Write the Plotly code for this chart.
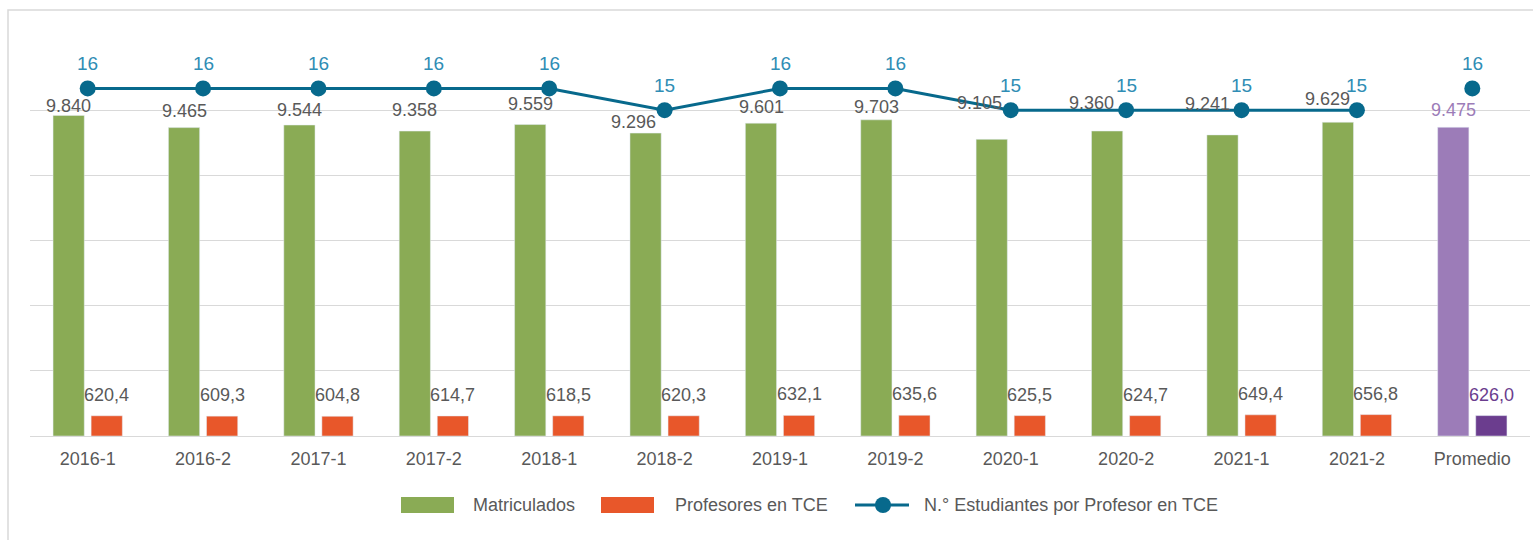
import plotly.graph_objects as go

# Semesters plus the overall average
categorias = ["2016-1", "2016-2", "2017-1", "2017-2", "2018-1", "2018-2",
              "2019-1", "2019-2", "2020-1", "2020-2", "2021-1", "2021-2", "Promedio"]
matriculados = [9840, 9465, 9544, 9358, 9559, 9296, 9601, 9703, 9105, 9360, 9241, 9629, 9475]
profesores_tce = [620.4, 609.3, 604.8, 614.7, 618.5, 620.3, 632.1, 635.6, 625.5, 624.7, 649.4, 656.8, 626.0]
estudiantes_por_profesor = [16, 16, 16, 16, 16, 15, 16, 16, 15, 15, 15, 15, 16]

nombres = ["Matriculados", "Profesores en TCE", "N.° Estudiantes por Profesor en TCE"]

# label placement for the enrolment values: vertical gap (px) above the bar top
# and horizontal nudge (px) to keep clear of the ratio markers
desplaz_y_matric = [9, 17, 15, 21, 21, 11, 16, 13, 36, 28, 31, 23, 17]
desplaz_x_matric = [0, 0, 0, 0, 0, -12, 0, 0, -12, -16, -15, -10, 0]

FONT = "Liberation Sans Narrow, Arial Narrow, Liberation Sans, Arial, sans-serif"
VERDE, NARANJA = "#8aab55", "#e8572a"
LILA, MORADO = "#9c7cb8", "#6b3d8e"
AZUL, AZUL_TXT = "#07698c", "#2f8db5"
GRIS_TXT = "#595959"
TAM = 18

n = len(categorias)
es_prom = [c == "Promedio" for c in categorias]


def fmt_miles(v):
    return f"{v:,.0f}".replace(",", ".")


def fmt_dec(v):
    return f"{v:.1f}".replace(".", ",")


fig = go.Figure()

fig.add_trace(go.Bar(
    x=categorias, y=matriculados, name=nombres[0],
    marker=dict(color=[LILA if p else VERDE for p in es_prom]),
    showlegend=False, hoverinfo="x+y",
))
fig.add_trace(go.Bar(
    x=categorias, y=profesores_tce, name=nombres[1],
    marker=dict(color=[MORADO if p else NARANJA for p in es_prom]),
    showlegend=False, hoverinfo="x+y",
))

# ratio line over the semesters, average shown as an isolated point
sem = [i for i in range(n) if not es_prom[i]]
prom = [i for i in range(n) if es_prom[i]]
fig.add_trace(go.Scatter(
    x=[categorias[i] for i in sem], y=[estudiantes_por_profesor[i] for i in sem],
    name=nombres[2], mode="lines+markers", yaxis="y2",
    line=dict(color=AZUL, width=3), marker=dict(color=AZUL, size=16),
    showlegend=False,
))
fig.add_trace(go.Scatter(
    x=[categorias[i] for i in prom], y=[estudiantes_por_profesor[i] for i in prom],
    name=nombres[2], mode="markers", yaxis="y2",
    marker=dict(color=AZUL, size=16), showlegend=False,
))

anns = []
for i, c in enumerate(categorias):
    anns.append(dict(
        x=c, y=matriculados[i], xref="x", yref="y",
        text=fmt_miles(matriculados[i]), showarrow=False,
        xshift=-19 + desplaz_x_matric[i], yshift=desplaz_y_matric[i], yanchor="middle",
        font=dict(family=FONT, size=TAM, color=LILA if es_prom[i] else GRIS_TXT),
    ))
    anns.append(dict(
        x=c, y=profesores_tce[i], xref="x", yref="y",
        text=fmt_dec(profesores_tce[i]), showarrow=False,
        xshift=19, yshift=21, yanchor="middle",
        font=dict(family=FONT, size=TAM, color=MORADO if es_prom[i] else GRIS_TXT),
    ))
    anns.append(dict(
        x=c, y=estudiantes_por_profesor[i], xref="x", yref="y2",
        text=str(estudiantes_por_profesor[i]), showarrow=False,
        yshift=25, yanchor="middle",
        font=dict(family=FONT, size=19, color=AZUL_TXT),
    ))

# pixel -> paper helpers for the frame and legend row
L = 30.0
W = 1500.0
B = 436.0
H = 391.0


def px(xp):
    return (xp - L) / W


def py(yp):
    return (B - yp) / H


shapes = [
    # outer frame
    dict(type="rect", xref="paper", yref="paper", x0=px(8), x1=px(1560), y0=py(10), y1=py(600),
         line=dict(color="#d9d9d9", width=1.5), fillcolor="rgba(0,0,0,0)", layer="below"),
    dict(type="rect", xref="paper", yref="paper", x0=px(401), x1=px(454), y0=py(497), y1=py(513),
         line=dict(width=0), fillcolor=VERDE),
    dict(type="rect", xref="paper", yref="paper", x0=px(601), x1=px(654), y0=py(497), y1=py(513),
         line=dict(width=0), fillcolor=NARANJA),
    dict(type="line", xref="paper", yref="paper", x0=px(855), x1=px(909), y0=py(505), y1=py(505),
         line=dict(color=AZUL, width=3)),
    dict(type="circle", xref="paper", yref="paper", xsizemode="pixel", ysizemode="pixel",
         xanchor=px(883), yanchor=py(505), x0=-8, x1=8, y0=-8, y1=8,
         line=dict(width=0), fillcolor=AZUL),
]
for xt, txt in [(471, nombres[0]), (673, nombres[1]), (922, nombres[2])]:
    anns.append(dict(x=px(xt), y=py(505), xref="paper", yref="paper", text=txt,
                     showarrow=False, xanchor="left", yanchor="middle",
                     font=dict(family=FONT, size=TAM, color=GRIS_TXT)))

fig.update_layout(
    width=1533, height=540,
    margin=dict(l=30, r=3, t=45, b=104),
    paper_bgcolor="white", plot_bgcolor="white",
    barmode="group", bargap=0.34, bargroupgap=0.18,
    font=dict(family=FONT, size=TAM, color=GRIS_TXT),
    xaxis=dict(type="category", range=[-0.5, n - 0.5], showgrid=False, showline=False,
               ticks="outside", ticklen=6, tickcolor="rgba(0,0,0,0)",
               tickfont=dict(family=FONT, size=TAM, color=GRIS_TXT)),
    yaxis=dict(range=[0, 12000], dtick=2000, showticklabels=False, showgrid=True,
               gridcolor="#d9d9d9", gridwidth=1.3, zeroline=True,
               zerolinecolor="#d9d9d9", zerolinewidth=1.3),
    yaxis2=dict(range=[0, 18], overlaying="y", side="right", showgrid=False,
                showticklabels=False, zeroline=False),
    annotations=anns, shapes=shapes, showlegend=False,
)

fig.write_html("out.html")
